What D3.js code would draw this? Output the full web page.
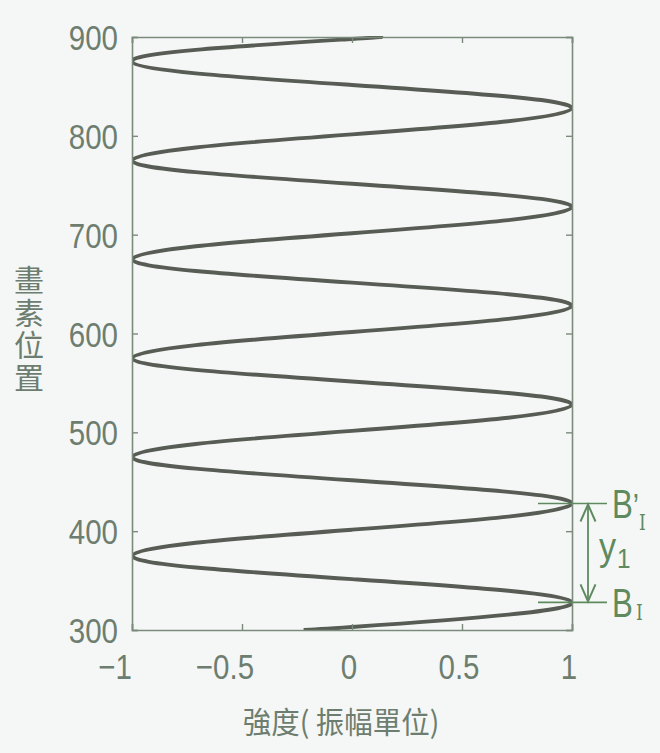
<!DOCTYPE html>
<html><head><meta charset="utf-8">
<script src="https://cdn.jsdelivr.net/npm/d3@7"></script>
<style>
html,body{margin:0;padding:0;background:#f5f7f6;}
svg{display:block;}
</style></head>
<body>
<svg id="chart" width="660" height="753"></svg>
<script>
// ---- data ----
const samplePos = [300, 303, 315.5,
  328, 339.75, 351.5, 363.25, 375, 388.25, 401.5, 414.75,
  428, 439.75, 451.5, 463.25, 475, 488.25, 501.5, 514.75,
  528, 539.75, 551.5, 563.25, 575, 588.25, 601.5, 614.75,
  628, 639.75, 651.5, 663.25, 675, 688.25, 701.5, 714.75,
  728, 739.75, 751.5, 763.25, 775, 788.25, 801.5, 814.75,
  828, 839.75, 851.5, 863.25, 875, 887, 898, 900];
const sampleVal = [-0.22, 0, 0.71,
  1, 0.71, 0, -0.71, -1, -0.71, 0, 0.71,
  1, 0.71, 0, -0.71, -1, -0.71, 0, 0.71,
  1, 0.71, 0, -0.71, -1, -0.71, 0, 0.71,
  1, 0.71, 0, -0.71, -1, -0.71, 0, 0.71,
  1, 0.71, 0, -0.71, -1, -0.71, 0, 0.71,
  1, 0.71, 0, -0.71, -1, -0.71, 0, 0.12];
const xTicks = [-1, -0.5, 0, 0.5, 1];
const xTickLabels = ["\u22121", "\u22120.5", "0", "0.5", "1"];
const yTicks = [300, 400, 500, 600, 700, 800, 900];
const yTickLabels = ["300", "400", "500", "600", "700", "800", "900"];
const xTitle = "強度( 振幅單位)";
const yTitle = "畫素位置";
const markerPos = [328, 428];          // B_I , B'_I peaks
const markerNames = ["B", "B"];
const markerPrimes = ["", "\u2019"];
const markerSubs = ["I", "I"];
const spanLabel = "y";
const spanSub = "1";

// ---- layout ----
const svg = d3.select("#chart");
const L = 132, R = 572, T = 37, B = 630;
const x = d3.scaleLinear().domain([-1, 1]).range([L, R]);
const y = d3.scaleLinear().domain([300, 900]).range([B, T]);

const numFont = "'Liberation Sans',Arial,sans-serif";
const cjkFont = "'Noto Sans CJK TC','Noto Sans CJK SC',sans-serif";
const serifFont = "'DejaVu Serif','Liberation Serif',serif";
const textCol = "#6d7d6f";
const frameCol = "#7b8a7b";
const curveCol = "#575c54";
const greenCol = "#5f8a60";
const squeeze = 0.82;

// curve
svg.append("clipPath").attr("id", "clip").append("rect")
  .attr("x", L).attr("y", T - 1).attr("width", R - L).attr("height", B - T + 2);
const pts = samplePos.map((p, i) => ({p, v: sampleVal[i]}));
const line = d3.line().x(d => x(d.v)).y(d => y(d.p)).curve(d3.curveNatural);
svg.append("path").datum(pts).attr("d", line)
  .attr("fill", "none").attr("stroke", curveCol).attr("stroke-width", 3.9)
  .attr("clip-path", "url(#clip)");

// frame + inward ticks via axes
const tk = 6;
const gB = svg.append("g").attr("transform", `translate(0,${B})`)
  .call(d3.axisTop(x).tickValues(xTicks).tickSize(tk).tickFormat(""));
const gT = svg.append("g").attr("transform", `translate(0,${T})`)
  .call(d3.axisBottom(x).tickValues(xTicks).tickSize(tk).tickFormat(""));
const gL = svg.append("g").attr("transform", `translate(${L},0)`)
  .call(d3.axisRight(y).tickValues(yTicks).tickSize(tk).tickFormat(""));
const gR = svg.append("g").attr("transform", `translate(${R},0)`)
  .call(d3.axisLeft(y).tickValues(yTicks).tickSize(tk).tickFormat(""));
[gB, gT, gL, gR].forEach(g => {
  g.select(".domain").attr("stroke", frameCol).attr("stroke-width", 1.6);
  g.selectAll(".tick line").attr("stroke", frameCol).attr("stroke-width", 1.4);
});

// x tick labels
svg.append("g").selectAll("text").data(xTicks).join("text")
  .attr("transform", d => `translate(${x(d) + (d < 0 ? -17 : -3)},679) scale(${squeeze},1)`)
  .attr("text-anchor", "middle")
  .attr("font-family", numFont).attr("font-size", 36)
  .attr("fill", textCol)
  .text((d, i) => xTickLabels[i]);

// y tick labels
svg.append("g").selectAll("text").data(yTicks).join("text")
  .attr("transform", d => `translate(118,${y(d) + 13}) scale(${squeeze},1)`)
  .attr("text-anchor", "end")
  .attr("font-family", numFont).attr("font-size", 36)
  .attr("fill", textCol)
  .text((d, i) => yTickLabels[i]);

// axis titles
svg.append("text")
  .attr("transform", `translate(341,733) scale(0.95,1)`)
  .attr("text-anchor", "middle")
  .attr("font-family", cjkFont).attr("font-size", 30)
  .attr("fill", textCol).text(xTitle);
svg.append("text").attr("x", 29).attr("y", 265)
  .style("writing-mode", "vertical-rl").style("text-orientation", "upright")
  .attr("letter-spacing", 2.5)
  .attr("font-family", cjkFont).attr("font-size", 30)
  .attr("fill", textCol).text(yTitle);

// annotations
const ann = svg.append("g");
markerPos.forEach((p, i) => {
  const yy = y(p);
  ann.append("line").attr("x1", x(1) - 34).attr("x2", x(1) + 35)
    .attr("y1", yy).attr("y2", yy)
    .attr("stroke", greenCol).attr("stroke-width", 1.6);
  const t = ann.append("text")
    .attr("transform", `translate(612,${yy + 15}) scale(0.78,1)`)
    .attr("fill", greenCol);
  t.append("tspan").attr("font-family", numFont).attr("font-size", 40)
    .text(markerNames[i]);
  if (markerPrimes[i]) {
    t.append("tspan").attr("font-family", numFont).attr("font-size", 36)
      .attr("dx", 0).text(markerPrimes[i]);
  }
  t.append("tspan").attr("font-family", serifFont).attr("font-size", 22)
    .attr("dx", i === 0 ? 4 : 0).attr("dy", i === 0 ? 3 : 11)
    .text(markerSubs[i]);
});
const ax = x(1) + 16;
const y0 = y(markerPos[0]), y1 = y(markerPos[1]);
ann.append("line").attr("x1", ax).attr("x2", ax).attr("y1", y1 + 1).attr("y2", y0 - 1)
  .attr("stroke", greenCol).attr("stroke-width", 1.8);
const ah = 18, aw = 7.5;
ann.append("path").attr("d", `M${ax - aw},${y1 + ah}L${ax},${y1 + 1}L${ax + aw},${y1 + ah}`)
  .attr("fill", "none").attr("stroke", greenCol).attr("stroke-width", 2);
ann.append("path").attr("d", `M${ax - aw},${y0 - ah}L${ax},${y0 - 1}L${ax + aw},${y0 - ah}`)
  .attr("fill", "none").attr("stroke", greenCol).attr("stroke-width", 2);
const yl = ann.append("text")
  .attr("transform", `translate(599,560) scale(0.9,1)`)
  .attr("fill", greenCol).attr("font-family", numFont);
yl.append("tspan").attr("font-size", 38).text(spanLabel);
yl.append("tspan").attr("font-size", 27).attr("dx", 1).attr("dy", 8).text(spanSub);
</script>
</body></html>
